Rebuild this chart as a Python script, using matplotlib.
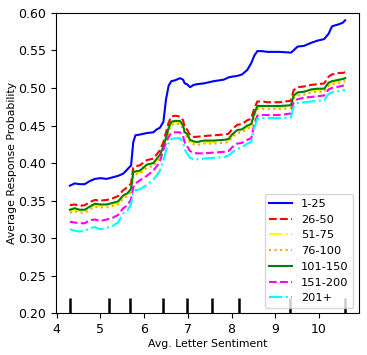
import matplotlib
matplotlib.use("Agg")
import matplotlib.pyplot as plt
import numpy as np

# sentiment grid shared by all curves
sentiment = [4.30, 4.41, 4.52, 4.64, 4.75, 4.87, 5.00, 5.14, 5.27, 5.40,
             5.52, 5.62, 5.70, 5.75, 5.80, 5.90, 6.06, 6.21, 6.29, 6.36,
             6.44, 6.50, 6.56, 6.62, 6.70, 6.82, 6.89, 6.93, 6.98, 7.05,
             7.13, 7.21, 7.36, 7.59, 7.82, 7.93, 8.01, 8.13, 8.24, 8.36,
             8.45, 8.52, 8.59, 8.70, 8.82, 9.10, 9.36, 9.42, 9.51, 9.66,
             9.82, 9.97, 10.12, 10.22, 10.30, 10.47, 10.55, 10.60]

rank_1_25 = [0.370, 0.373, 0.372, 0.372, 0.376, 0.379, 0.380, 0.379, 0.381, 0.383,
             0.386, 0.392, 0.397, 0.428, 0.437, 0.438, 0.440, 0.441, 0.445, 0.447,
             0.455, 0.485, 0.503, 0.509, 0.510, 0.513, 0.511, 0.506, 0.505, 0.501,
             0.504, 0.505, 0.506, 0.509, 0.511, 0.514, 0.515, 0.516, 0.518, 0.524,
             0.533, 0.543, 0.549, 0.549, 0.548, 0.548, 0.547, 0.550, 0.555, 0.556,
             0.560, 0.563, 0.565, 0.572, 0.582, 0.585, 0.587, 0.590]

rank_26_50 = [0.344, 0.345, 0.343, 0.344, 0.348, 0.351, 0.350, 0.351, 0.353, 0.356,
              0.364, 0.368, 0.373, 0.394, 0.396, 0.397, 0.404, 0.406, 0.412, 0.417,
              0.428, 0.441, 0.454, 0.462, 0.463, 0.462, 0.457, 0.447, 0.445, 0.437,
              0.435, 0.435, 0.436, 0.437, 0.438, 0.439, 0.445, 0.451, 0.452, 0.457,
              0.459, 0.473, 0.482, 0.482, 0.481, 0.481, 0.483, 0.497, 0.501, 0.502,
              0.504, 0.505, 0.506, 0.515, 0.518, 0.520, 0.520, 0.521]

rank_51_75 = [0.336, 0.338, 0.336, 0.336, 0.340, 0.344, 0.343, 0.343, 0.345, 0.347,
              0.355, 0.358, 0.364, 0.386, 0.387, 0.388, 0.396, 0.398, 0.404, 0.409,
              0.420, 0.432, 0.445, 0.453, 0.454, 0.454, 0.448, 0.439, 0.437, 0.429,
              0.427, 0.426, 0.428, 0.428, 0.429, 0.430, 0.436, 0.442, 0.443, 0.448,
              0.450, 0.464, 0.474, 0.474, 0.474, 0.474, 0.475, 0.488, 0.492, 0.493,
              0.496, 0.497, 0.497, 0.505, 0.507, 0.509, 0.510, 0.511]

rank_76_100 = [0.334, 0.336, 0.334, 0.334, 0.338, 0.342, 0.341, 0.341, 0.343, 0.345,
               0.353, 0.356, 0.362, 0.384, 0.385, 0.386, 0.394, 0.396, 0.402, 0.407,
               0.418, 0.430, 0.443, 0.451, 0.452, 0.452, 0.446, 0.437, 0.435, 0.427,
               0.425, 0.424, 0.426, 0.426, 0.427, 0.428, 0.434, 0.440, 0.441, 0.446,
               0.448, 0.462, 0.472, 0.472, 0.472, 0.472, 0.473, 0.486, 0.490, 0.491,
               0.494, 0.495, 0.495, 0.503, 0.505, 0.507, 0.508, 0.509]

rank_101_150 = [0.338, 0.340, 0.338, 0.338, 0.342, 0.346, 0.345, 0.345, 0.347, 0.349,
                0.357, 0.360, 0.366, 0.388, 0.389, 0.390, 0.398, 0.400, 0.406, 0.411,
                0.422, 0.434, 0.447, 0.455, 0.456, 0.456, 0.450, 0.441, 0.439, 0.431,
                0.429, 0.428, 0.430, 0.430, 0.431, 0.432, 0.438, 0.444, 0.445, 0.450,
                0.452, 0.466, 0.476, 0.476, 0.476, 0.476, 0.477, 0.490, 0.494, 0.495,
                0.498, 0.499, 0.499, 0.507, 0.509, 0.511, 0.512, 0.513]

rank_151_200 = [0.322, 0.321, 0.320, 0.320, 0.324, 0.325, 0.323, 0.325, 0.327, 0.331,
                0.340, 0.344, 0.352, 0.368, 0.373, 0.377, 0.383, 0.390, 0.396, 0.402,
                0.418, 0.427, 0.435, 0.440, 0.441, 0.441, 0.436, 0.427, 0.423, 0.416,
                0.414, 0.413, 0.413, 0.414, 0.415, 0.416, 0.421, 0.426, 0.427, 0.431,
                0.433, 0.452, 0.463, 0.464, 0.464, 0.464, 0.466, 0.481, 0.485, 0.487,
                0.488, 0.489, 0.490, 0.498, 0.500, 0.502, 0.503, 0.503]

rank_201_plus = [0.312, 0.310, 0.309, 0.310, 0.313, 0.315, 0.312, 0.314, 0.316, 0.321,
                 0.333, 0.337, 0.345, 0.362, 0.364, 0.365, 0.371, 0.378, 0.384, 0.390,
                 0.403, 0.417, 0.427, 0.432, 0.433, 0.433, 0.428, 0.418, 0.413, 0.407,
                 0.405, 0.405, 0.406, 0.407, 0.408, 0.410, 0.414, 0.419, 0.421, 0.426,
                 0.428, 0.447, 0.459, 0.460, 0.460, 0.460, 0.461, 0.475, 0.480, 0.481,
                 0.482, 0.483, 0.484, 0.492, 0.494, 0.496, 0.497, 0.497]

# decile positions shown as rug ticks along the bottom
deciles = [4.30, 5.20, 5.67, 6.43, 6.97, 7.55, 8.18, 9.33, 10.60]

labels = ['1-25', '26-50', '51-75', '76-100', '101-150', '151-200', '201+']
series = [rank_1_25, rank_26_50, rank_51_75, rank_76_100,
          rank_101_150, rank_151_200, rank_201_plus]
colors = ['blue', 'red', 'yellow', 'orange', 'green', 'magenta', 'cyan']
styles = ['-', '--', '-.', ':', '-', '--', '-.']

fig = plt.figure(figsize=(3.67, 3.55), dpi=100)
ax = fig.add_axes([0.153, 0.117, 0.825, 0.847])

for vals, lab, col, ls in zip(series, labels, colors, styles):
    ax.plot(sentiment, vals, color=col, linestyle=ls, linewidth=1.5, label=lab)

ax.vlines(deciles, 0.20, 0.22, color='black', linewidth=1.8, zorder=1)

ax.set_ylim(0.20, 0.60)
ax.set_xticks([4, 5, 6, 7, 8, 9, 10])
ax.tick_params(labelsize=9)
ax.set_xlabel('Avg. Letter Sentiment', fontsize=7.8, labelpad=2)
ax.set_ylabel('Average Response Probability', fontsize=7.8, labelpad=1)
ax.legend(loc='lower right', fontsize=8.2)

plt.savefig('out.png', dpi=100)
